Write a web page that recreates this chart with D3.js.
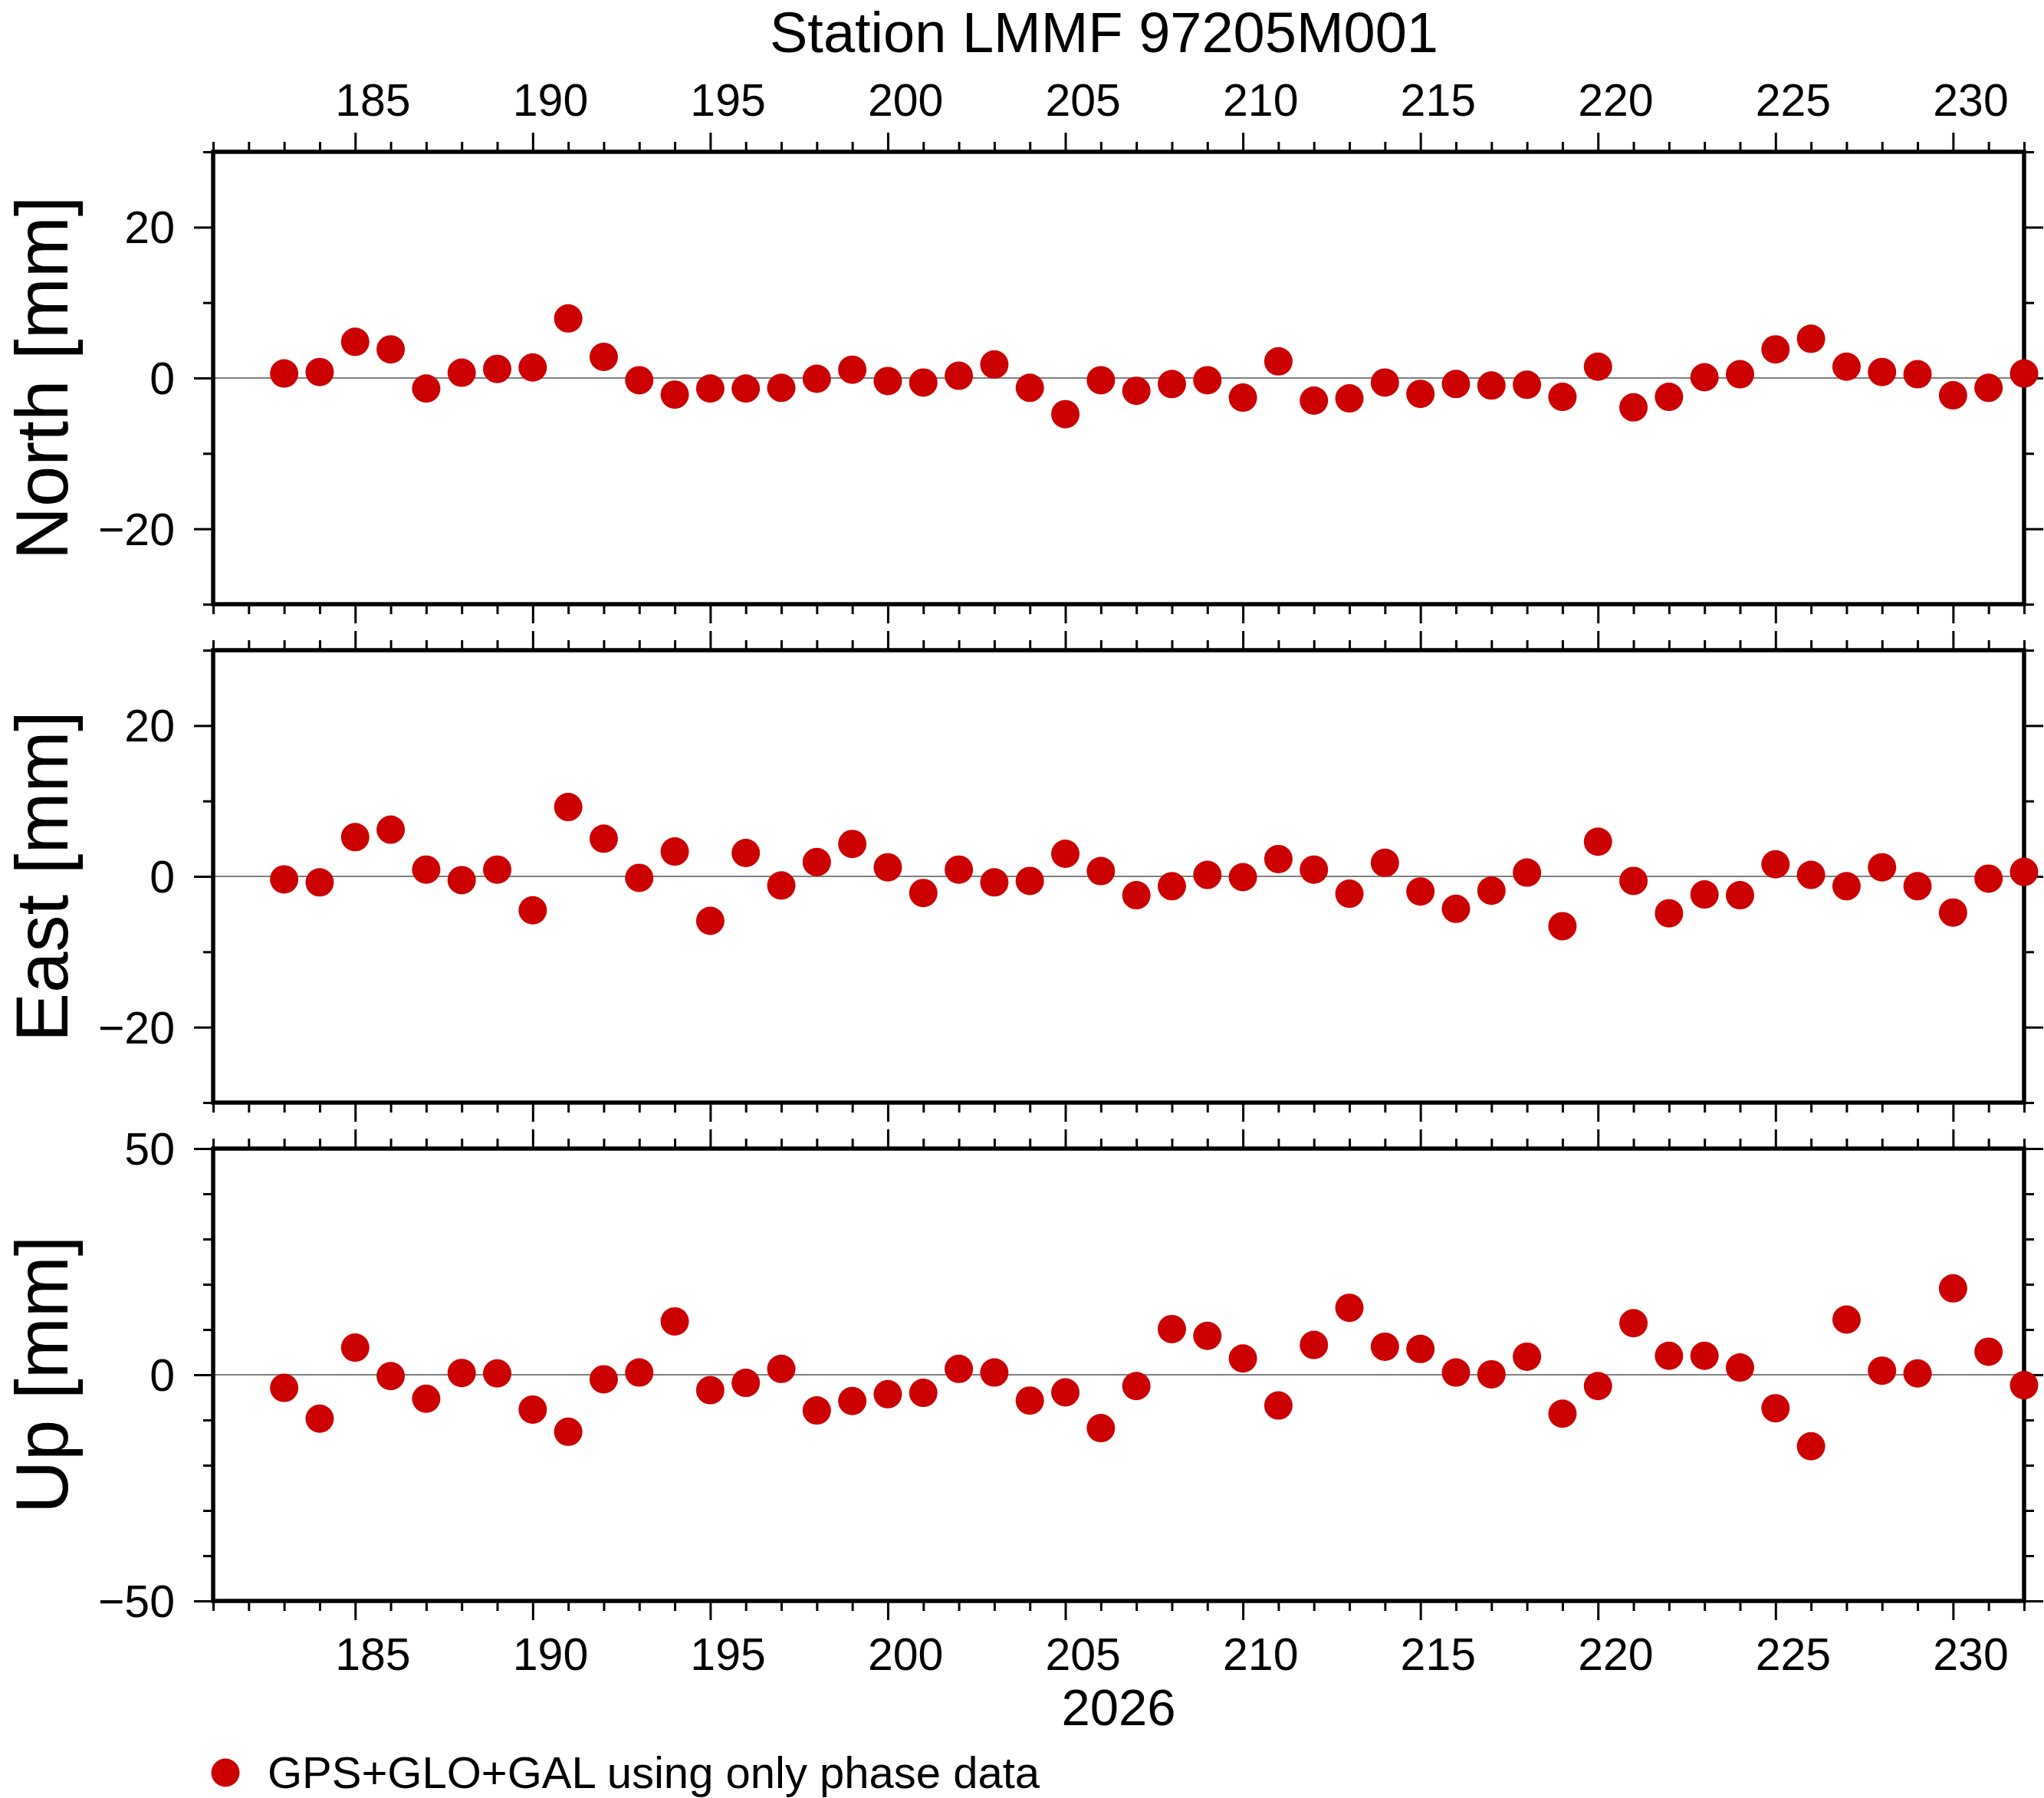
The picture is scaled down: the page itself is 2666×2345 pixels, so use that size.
<!DOCTYPE html>
<html>
  <head>
    <meta charset="utf-8">
    <script src="https://d3js.org/d3.v7.min.js"></script>
    <style>
      body { margin: 0; background: #fff; }
      text { font-family: "Liberation Sans", Arial, Helvetica, sans-serif; fill: #000; }
    </style>
  </head>
<body>
<script>
// day of year (2026), one solution per day
var days = [183, 184, 185, 186, 187, 188, 189, 190, 191, 192, 193, 194, 195, 196, 197,
            198, 199, 200, 201, 202, 203, 204, 205, 206, 207, 208, 209, 210, 211, 212,
            213, 214, 215, 216, 217, 218, 219, 220, 221, 222, 223, 224, 225, 226, 227,
            228, 229, 230, 231, 232];

// residuals in mm
var north = [0.6, 0.8, 4.8, 3.8, -1.4, 0.7, 1.2, 1.4, 7.9, 2.8, -0.3, -2.2, -1.4, -1.4, -1.3,
             -0.1, 1.1, -0.4, -0.6, 0.3, 1.8, -1.3, -4.8, -0.3, -1.7, -0.8, -0.3, -2.6, 2.2, -3.0,
             -2.7, -0.6, -2.1, -0.8, -1.0, -0.9, -2.5, 1.5, -3.9, -2.5, 0.1, 0.5, 3.8, 5.2, 1.5,
             0.8, 0.5, -2.3, -1.3, 0.6];
var east = [-0.4, -0.8, 5.2, 6.2, 0.9, -0.5, 0.9, -4.5, 9.2, 5.0, -0.2, 3.3, -5.9, 3.1, -1.2,
            1.9, 4.3, 1.2, -2.2, 0.9, -0.8, -0.6, 3.0, 0.7, -2.5, -1.3, 0.2, -0.1, 2.3, 0.9,
            -2.3, 1.8, -2.0, -4.3, -1.9, 0.5, -6.6, 4.6, -0.6, -4.9, -2.4, -2.5, 1.6, 0.2, -1.3,
            1.2, -1.3, -4.8, -0.3, 0.6];
var up = [-2.9, -9.7, 6.0, -0.3, -5.3, 0.4, 0.3, -7.7, -12.6, -1.0, 0.5, 11.8, -3.4, -1.8, 1.3,
          -7.9, -5.8, -4.3, -4.0, 1.3, 0.5, -5.7, -3.9, -11.8, -2.5, 10.1, 8.6, 3.6, -6.8, 6.6,
          14.8, 6.2, 5.7, 0.5, 0.1, 4.0, -8.6, -2.5, 11.4, 4.2, 4.2, 1.6, -7.4, -15.8, 12.2,
          0.9, 0.3, 19.1, 5.1, -2.3];

// axis ticks and labels
var xDomain = [181, 232];
var xMajor = [185, 190, 195, 200, 205, 210, 215, 220, 225, 230];
var xLabels = ["185", "190", "195", "200", "205", "210", "215", "220", "225", "230"];
var yearLabel = "2026";
var titleText = "Station LMMF 97205M001";
var legendText = "GPS+GLO+GAL using only phase data";

var panels = [
  { name: "North [mm]", values: north, domain: [-30, 30], major: [-20, 0, 20], minor: [-30, -10, 10, 30] },
  { name: "East [mm]",  values: east,  domain: [-30, 30], major: [-20, 0, 20], minor: [-30, -10, 10, 30] },
  { name: "Up [mm]",    values: up,    domain: [-50, 50], major: [-50, 0, 50], minor: [-40, -30, -20, -10, 10, 20, 30, 40] }
];

var W = 2666, H = 2345;
var left = 278, right = 2640;
var panelTop = [198, 848, 1498], panelH = 590;
var dotColor = "rgb(204,0,0)";

var svg = d3.select("body").append("svg")
    .attr("width", W)
    .attr("height", H);

svg.append("rect").attr("width", W).attr("height", H).attr("fill", "#fff");

var x = d3.scaleLinear().domain(xDomain).range([left, right]);
var xMinor = d3.range(xDomain[0], xDomain[1] + 1).filter(function(d) { return xMajor.indexOf(d) < 0; });

function styleAxis(g) {
  g.select(".domain").remove();
  g.selectAll(".tick line").attr("stroke", "#000").attr("stroke-width", 3);
  g.selectAll(".tick text").remove();
}

panels.forEach(function(p, i) {
  var top = panelTop[i], bottom = top + panelH;
  var y = d3.scaleLinear().domain(p.domain).range([bottom, top]);
  var g = svg.append("g");

  // zero line
  g.append("line")
      .attr("x1", left).attr("x2", right)
      .attr("y1", y(0)).attr("y2", y(0))
      .attr("stroke", "#000").attr("stroke-width", 1.2);

  // ticks on all four sides, pointing outward
  [[d3.axisTop, top], [d3.axisBottom, bottom]].forEach(function(a) {
    g.append("g").attr("transform", "translate(0," + a[1] + ")")
        .call(a[0](x).tickValues(xMajor).tickSize(25).tickSizeOuter(0)).call(styleAxis);
    g.append("g").attr("transform", "translate(0," + a[1] + ")")
        .call(a[0](x).tickValues(xMinor).tickSize(13).tickSizeOuter(0)).call(styleAxis);
  });
  [[d3.axisLeft, left], [d3.axisRight, right]].forEach(function(a) {
    g.append("g").attr("transform", "translate(" + a[1] + ",0)")
        .call(a[0](y).tickValues(p.major).tickSize(25).tickSizeOuter(0)).call(styleAxis);
    g.append("g").attr("transform", "translate(" + a[1] + ",0)")
        .call(a[0](y).tickValues(p.minor).tickSize(13).tickSizeOuter(0)).call(styleAxis);
  });

  // frame
  g.append("rect")
      .attr("x", left).attr("y", top)
      .attr("width", right - left).attr("height", panelH)
      .attr("fill", "none").attr("stroke", "#000").attr("stroke-width", 5.5);

  // y tick labels
  g.selectAll(".ylab").data(p.major).enter().append("text")
      .attr("x", 228)
      .attr("y", function(d) { return y(d) + 21; })
      .attr("text-anchor", "end")
      .style("font-size", "59px")
      .text(function(d) { return d < 0 ? "\u2212" + Math.abs(d) : d; });

  // axis title
  g.append("text")
      .attr("transform", "translate(88," + (top + panelH / 2) + ") rotate(-90)")
      .attr("text-anchor", "middle")
      .style("font-size", "96px")
      .text(p.name);

  // x labels, centred on the day interval
  if (i === 0 || i === panels.length - 1) {
    g.selectAll(".xlab").data(xMajor).enter().append("text")
        .attr("x", function(d) { return x(d + 0.5); })
        .attr("y", i === 0 ? top - 47 : bottom + 90)
        .attr("text-anchor", "middle")
        .style("font-size", "59px")
        .text(function(d, k) { return xLabels[k]; });
  }

  // points
  g.selectAll("circle").data(p.values).enter().append("circle")
      .attr("cx", function(d, k) { return x(days[k]); })
      .attr("cy", function(d) { return y(d); })
      .attr("r", 18.5)
      .attr("fill", dotColor);
});

// title
svg.append("text")
    .attr("x", 1440).attr("y", 68)
    .attr("text-anchor", "middle")
    .style("font-size", "74px")
    .text(titleText);

// year under the bottom axis
svg.append("text")
    .attr("x", (left + right) / 2).attr("y", 2250)
    .attr("text-anchor", "middle")
    .style("font-size", "67px")
    .text(yearLabel);

// legend
svg.append("circle")
    .attr("cx", 294).attr("cy", 2312).attr("r", 18.5)
    .attr("fill", dotColor);
svg.append("text")
    .attr("x", 349).attr("y", 2332)
    .style("font-size", "58px")
    .text(legendText);
</script>
</body>
</html>
